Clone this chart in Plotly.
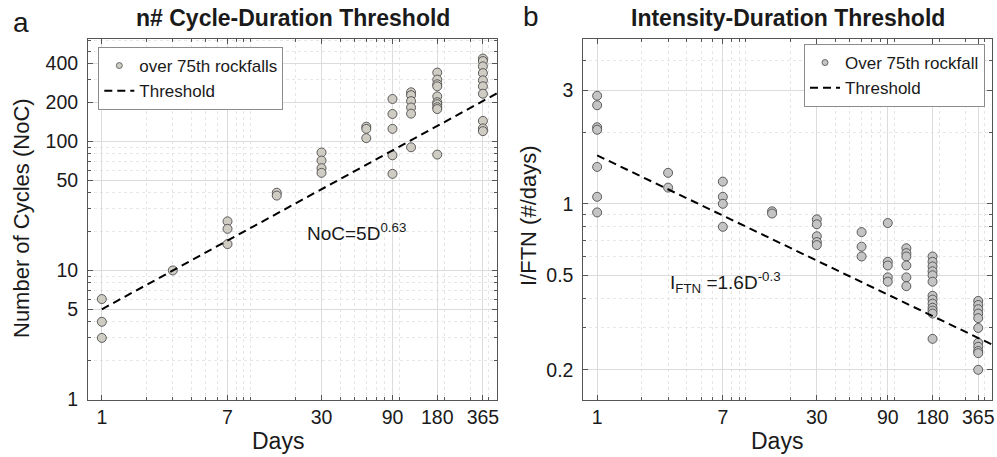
import plotly.graph_objects as go

# ---------------- data ----------------
x_tick_vals = [1, 7, 30, 90, 180, 365]
x_tick_text = ["1", "7", "30", "90", "180", "365"]

noc_days = [1, 1, 1, 3, 7, 7, 7, 15, 15, 30, 30, 30, 30, 60, 60, 60,
            90, 90, 90, 90, 90, 120, 120, 120, 120, 120, 120,
            180, 180, 180, 180, 180, 180, 180, 180, 180, 180,
            365, 365, 365, 365, 365, 365, 365, 365, 365, 365]
noc_vals = [6, 4, 3, 10, 24, 21, 16, 40, 38, 82, 71, 62, 57, 130, 125, 106,
            213, 163, 125, 78, 56, 240, 228, 205, 183, 164, 90,
            341, 301, 277, 267, 223, 201, 194, 184, 178, 79,
            438, 419, 381, 338, 297, 267, 234, 144, 126, 120]
noc_thr_days = [1, 455]
noc_thr_vals = [5, 236]
noc_y_ticks = [1, 5, 10, 50, 100, 200, 400]

ifn_days = [1, 1, 1, 1, 1, 1, 1, 3, 3, 7, 7, 7, 7, 15, 15,
            30, 30, 30, 30, 30, 60, 60, 60, 90, 90, 90, 90, 90,
            120, 120, 120, 120, 120, 120,
            180, 180, 180, 180, 180, 180, 180, 180, 180, 180, 180, 180, 180,
            365, 365, 365, 365, 365, 365, 365, 365, 365, 365, 365]
ifn_vals = [2.85, 2.6, 2.1, 2.05, 1.43, 1.07, 0.92, 1.35, 1.17,
            1.24, 1.07, 1.0, 0.8, 0.93, 0.91,
            0.86, 0.82, 0.73, 0.69, 0.67, 0.76, 0.66, 0.60,
            0.83, 0.57, 0.55, 0.49, 0.47,
            0.65, 0.62, 0.60, 0.55, 0.49, 0.45,
            0.60, 0.57, 0.545, 0.52, 0.50, 0.47, 0.41, 0.395, 0.38, 0.365, 0.355, 0.345, 0.27,
            0.39, 0.375, 0.36, 0.345, 0.33, 0.30, 0.26, 0.25, 0.24, 0.235, 0.2]
ifn_thr_days = [1, 455]
ifn_thr_vals = [1.6, 0.255]
ifn_y_ticks = [0.2, 0.5, 1, 3]

x_minor = [2, 3, 4, 5, 6, 8, 9, 10, 20, 40, 50, 60, 70, 80, 100, 200, 300, 400]
noc_y_minor = [2, 3, 4, 6, 7, 8, 9, 20, 30, 40, 60, 70, 80, 90, 300, 500, 600]
ifn_y_minor = [0.3, 0.4, 0.6, 0.7, 0.8, 0.9, 2, 4, 5]

# ---------------- styling ----------------
FONT = "Liberation Sans, Arial, sans-serif"
W, H = 997, 457
AXCOL = "#555555"
GRID = "#dcdcdc"
MINGRID = "#e6e6e6"
TXT = "#1a1a1a"

fig = go.Figure()

# panel a
fig.add_trace(go.Scatter(x=noc_days, y=noc_vals, mode="markers", showlegend=False,
                         marker=dict(size=9, color="#cfccc4", line=dict(color="#4d4d4d", width=0.9)),
                         xaxis="x", yaxis="y"))
fig.add_trace(go.Scatter(x=noc_thr_days, y=noc_thr_vals, mode="lines", showlegend=False,
                         line=dict(color="black", width=2, dash="8px,5px"),
                         xaxis="x", yaxis="y"))
fig.add_trace(go.Scatter(x=[None], y=[None], mode="markers", name="over 75th rockfalls",
                         marker=dict(size=6, color="#cfccc4", line=dict(color="#4d4d4d", width=0.8)),
                         legend="legend", xaxis="x", yaxis="y"))
fig.add_trace(go.Scatter(x=[None], y=[None], mode="lines", name="Threshold",
                         line=dict(color="black", width=2, dash="8px,5px"),
                         legend="legend", xaxis="x", yaxis="y"))

# panel b
fig.add_trace(go.Scatter(x=ifn_days, y=ifn_vals, mode="markers", showlegend=False,
                         marker=dict(size=9, color="#c4c4c4", line=dict(color="#4d4d4d", width=0.9)),
                         xaxis="x2", yaxis="y2"))
fig.add_trace(go.Scatter(x=ifn_thr_days, y=ifn_thr_vals, mode="lines", showlegend=False,
                         line=dict(color="black", width=2, dash="8px,5px"),
                         xaxis="x2", yaxis="y2"))
fig.add_trace(go.Scatter(x=[None], y=[None], mode="markers", name="Over 75th rockfall",
                         marker=dict(size=6, color="#c4c4c4", line=dict(color="#4d4d4d", width=0.8)),
                         legend="legend2", xaxis="x2", yaxis="y2"))
fig.add_trace(go.Scatter(x=[None], y=[None], mode="lines", name="Threshold",
                         line=dict(color="black", width=2, dash="8px,5px"),
                         legend="legend2", xaxis="x2", yaxis="y2"))


def xax(domain, anchor):
    return dict(type="log", domain=domain, anchor=anchor, range=[-0.093, 2.657],
                tickvals=x_tick_vals, ticktext=x_tick_text, automargin=False,
                tickfont=dict(size=19.5, color=TXT, family=FONT),
                showline=True, linecolor=AXCOL, linewidth=1, mirror="ticks",
                ticks="inside", ticklen=5, tickcolor=AXCOL,
                showgrid=True, gridcolor=GRID, gridwidth=1, zeroline=False,
                minor=dict(tickvals=x_minor, ticks="inside", ticklen=3, tickcolor=AXCOL,
                           showgrid=True, gridcolor=MINGRID, griddash="dot", gridwidth=1))


def yax(domain, anchor, rng, tv, minor_vals):
    return dict(type="log", domain=domain, anchor=anchor, range=rng,
                tickvals=tv, ticktext=[str(v) for v in tv], automargin=False,
                tickfont=dict(size=19.5, color=TXT, family=FONT), ticklabelstandoff=5,
                showline=True, linecolor=AXCOL, linewidth=1, mirror="ticks",
                ticks="inside", ticklen=5, tickcolor=AXCOL,
                showgrid=True, gridcolor=GRID, gridwidth=1, zeroline=False,
                minor=dict(tickvals=minor_vals, ticks="inside", ticklen=3, tickcolor=AXCOL,
                           showgrid=True, gridcolor=MINGRID, griddash="dot", gridwidth=1))


ydom = [1 - 399.5 / H, 1 - 38.5 / H]
fig.update_layout(
    width=W, height=H,
    margin=dict(l=0, r=0, t=0, b=0, autoexpand=False),
    paper_bgcolor="white", plot_bgcolor="white",
    font=dict(family=FONT, color=TXT),
    xaxis=xax([88 / W, 497 / W], "y"),
    yaxis=yax(ydom, "x", [0, 2.797], noc_y_ticks, noc_y_minor),
    xaxis2=xax([583.3 / W, 992.3 / W], "y2"),
    yaxis2=yax(ydom, "x2", [-0.824, 0.696], ifn_y_ticks, ifn_y_minor),
    legend=dict(x=98.3 / W, y=1 - 47 / H, xanchor="left", yanchor="top",
                bgcolor="white", bordercolor="#8c8c8c", borderwidth=1,
                font=dict(size=17, family=FONT, color=TXT),
                tracegroupgap=0, itemwidth=30),
    legend2=dict(x=985 / W, y=1 - 44 / H, xanchor="right", yanchor="top",
                 bgcolor="white", bordercolor="#8c8c8c", borderwidth=1,
                 font=dict(size=17, family=FONT, color=TXT),
                 tracegroupgap=0, itemwidth=30),
)

ann = [
    dict(text="<b>n# Cycle-Duration Threshold</b>", x=292.5 / W, y=1 - 18 / H, size=23),
    dict(text="<b>Intensity-Duration Threshold</b>", x=788 / W, y=1 - 18 / H, size=23),
    dict(text="a", x=20.5 / W, y=1 - 22 / H, size=28),
    dict(text="b", x=531 / W, y=1 - 16 / H, size=28),
    dict(text="Days", x=278 / W, y=1 - 441 / H, size=23),
    dict(text="Days", x=777 / W, y=1 - 441 / H, size=23),
]
for a in ann:
    fig.add_annotation(text=a["text"], x=a["x"], y=a["y"], xref="paper", yref="paper",
                       xanchor="center", yanchor="middle", showarrow=False,
                       font=dict(size=a["size"], family=FONT, color=TXT))

fig.add_annotation(text="Number of Cycles (NoC)", x=21 / W, y=1 - 218 / H, xref="paper", yref="paper",
                   textangle=-90, xanchor="center", yanchor="middle", showarrow=False,
                   font=dict(size=22, family=FONT, color=TXT))
fig.add_annotation(text="I/FTN (#/days)", x=528 / W, y=1 - 216 / H, xref="paper", yref="paper",
                   textangle=-90, xanchor="center", yanchor="middle", showarrow=False,
                   font=dict(size=22, family=FONT, color=TXT))

fig.add_annotation(text="NoC=5D<sup>0.63</sup>", x=1.368, y=1.30, xref="x", yref="y",
                   xanchor="left", yanchor="middle", showarrow=False,
                   font=dict(size=19, family=FONT, color=TXT))
fig.add_annotation(text="I<sub>FTN</sub> =1.6D<sup>-0.3</sup>", x=0.475, y=-0.33, xref="x2", yref="y2",
                   xanchor="left", yanchor="middle", showarrow=False,
                   font=dict(size=19, family=FONT, color=TXT))

fig.write_html("out.html", config={"responsive": False, "displayModeBar": False},
               post_script="document.body.style.margin='0px';document.body.style.overflow='hidden';")
